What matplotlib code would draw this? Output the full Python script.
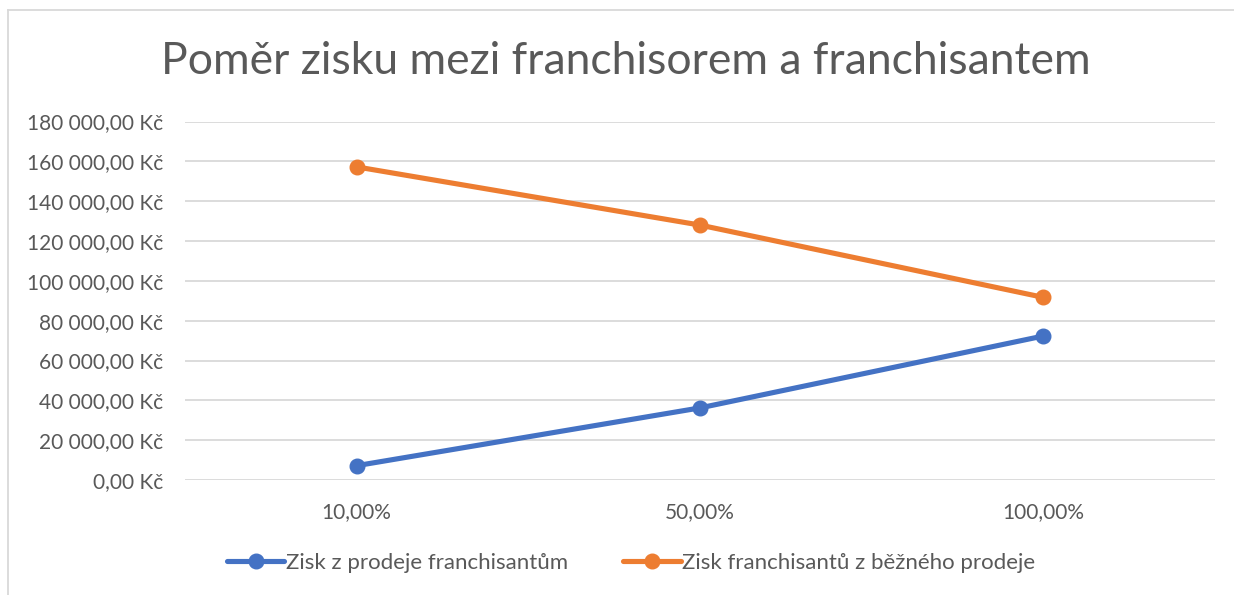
import matplotlib
matplotlib.use("Agg")
import matplotlib.pyplot as plt
from matplotlib.ticker import FuncFormatter

plt.rcParams["font.family"] = ["Lato", "DejaVu Sans"]

categories = ["10,00%", "50,00%", "100,00%"]
zisk_prodej = [7200, 36200, 72300]
zisk_bezny = [157200, 128000, 91700]
series_names = ["Zisk z prodeje franchisantům", "Zisk franchisantů z běžného prodeje"]
title = "Poměr zisku mezi franchisorem a franchisantem"

TEXT = "#595959"
BLUE = "#4472C4"
ORANGE = "#ED7D31"


def kc(v, _pos):
    s = f"{v:,.2f}".replace(",", " ").replace(".", ",")
    return s + " Kč"


fig = plt.figure(figsize=(12.34, 5.95), dpi=100)
ax = fig.add_axes([185 / 1234, 1 - 480 / 595, 1030 / 1234, 358.5 / 595])

x = list(range(len(categories)))
ax.plot(x, zisk_prodej, color=BLUE, lw=3.7, marker="o", ms=10.5, label=series_names[0],
        solid_capstyle="round", zorder=3)
ax.plot(x, zisk_bezny, color=ORANGE, lw=3.7, marker="o", ms=10.5, label=series_names[1],
        solid_capstyle="round", zorder=3)

ax.set_xlim(-0.5, len(categories) - 0.5)
ax.set_ylim(0, 180000)
ax.set_yticks(range(0, 180001, 20000))
ax.yaxis.set_major_formatter(FuncFormatter(kc))
ax.set_xticks(x)
ax.set_xticklabels(categories)
ax.tick_params(axis="both", length=0, labelsize=15, labelcolor=TEXT)
ax.tick_params(axis="y", pad=16)
ax.tick_params(axis="x", pad=16)
ax.grid(axis="y", color="#D9D9D9", lw=1.3)
ax.set_axisbelow(True)
for sp in ax.spines.values():
    sp.set_visible(False)

fig.text(626 / 1234, 1 - 62 / 595, title, ha="center", va="center", fontsize=32, color=TEXT)

fig.legend(loc="center", bbox_to_anchor=(631 / 1234, 1 - 563 / 595), ncol=2, frameon=False,
           fontsize=16, labelcolor=TEXT, handlelength=2.6, columnspacing=2.5, handletextpad=0.05)

# chart area border (only left/top visible in the reference crop)
fig.add_artist(plt.Line2D([8 / 1234, 8 / 1234], [0, 1 - 10 / 595], color="#D9D9D9", lw=1.3,
                          transform=fig.transFigure))
fig.add_artist(plt.Line2D([8 / 1234, 1], [1 - 10 / 595, 1 - 10 / 595], color="#D9D9D9", lw=1.3,
                          transform=fig.transFigure))

fig.savefig("out.png", dpi=100)
